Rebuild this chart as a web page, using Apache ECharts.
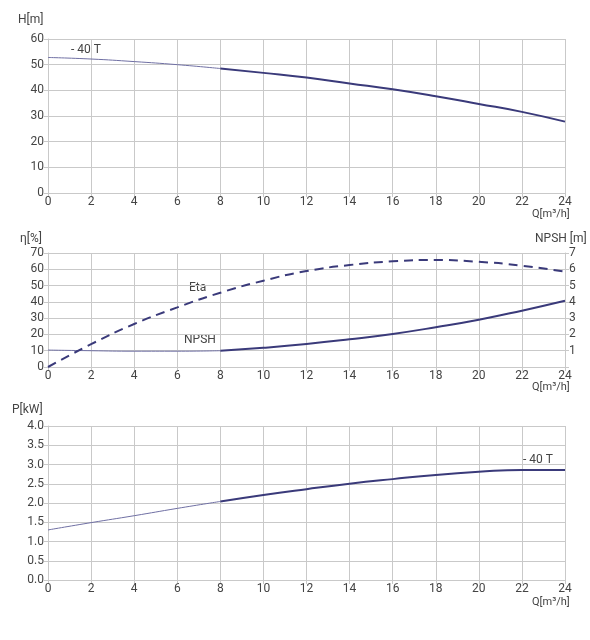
<!DOCTYPE html>
<html lang="en">
<head>
  <meta charset="UTF-8">
  <title>Pump curves</title>
  <script type="text/javascript" src="https://cdn.jsdelivr.net/npm/echarts@6/dist/echarts.min.js"></script>
  <style>
    html, body { margin: 0; padding: 0; background: #fff; }
  </style>
</head>
<body>
<div id="main" style="width: 590px;height:640px;"></div>
<script type="text/javascript">
  var myChart = echarts.init(document.getElementById('main'));

  // flow Q[m3/h]
  const flow = [0, 2, 4, 6, 8, 10, 12, 14, 16, 18, 20, 22, 24];
  // head H[m]
  const head = [52.8, 52.2, 51.2, 50.0, 48.5, 46.8, 45.0, 42.7, 40.4, 37.7, 34.7, 31.6, 27.8];
  // efficiency eta[%]
  const eta = [0, 14, 26.4, 36.6, 45.6, 53, 58.9, 62.6, 64.9, 65.7, 64.6, 62.2, 58.5];
  // NPSH [m]
  const npsh = [1.04, 1.0, 0.97, 0.97, 1.0, 1.18, 1.41, 1.7, 2.03, 2.44, 2.9, 3.46, 4.07];
  // power P[kW]
  const power = [1.30, 1.49, 1.67, 1.86, 2.04, 2.21, 2.36, 2.50, 2.62, 2.73, 2.81, 2.86, 2.86];
  const split = 4; // index of Q = 8, where the drawn curve becomes thick

  const font = 'Roboto, "Noto Sans", sans-serif';
  const grey = '#c9c9c9';
  const txt = '#444';
  const thin = '#6f6fa3';
  const thick = '#3a3a7a';

  function pairs(ys, from, to) {
    return flow.slice(from, to).map(function (q, i) { return [q, ys[from + i]]; });
  }

  function xAxis(g) {
    return {
      type: 'value', gridIndex: g, min: 0, max: 24, interval: 2,
      axisLine: { show: true, lineStyle: { color: grey } },
      axisTick: { show: true, length: 4, lineStyle: { color: grey } },
      axisLabel: { color: txt, fontFamily: font, fontSize: 12, margin: 3 },
      splitLine: { show: true, lineStyle: { color: grey } }
    };
  }

  function yAxis(g, max, interval, fmt) {
    return {
      type: 'value', gridIndex: g, min: 0, max: max, interval: interval,
      axisLine: { show: true, lineStyle: { color: grey } },
      axisTick: { show: true, length: 4, lineStyle: { color: grey } },
      axisLabel: { color: txt, fontFamily: font, fontSize: 12, margin: 4, formatter: fmt },
      splitLine: { show: true, lineStyle: { color: grey } }
    };
  }

  function curve(ys, xi, yi) {
    return [
      {
        type: 'line', xAxisIndex: xi, yAxisIndex: yi, smooth: true, symbol: 'none',
        data: pairs(ys, 0, split + 1), lineStyle: { color: thin, width: 1 }
      },
      {
        type: 'line', xAxisIndex: xi, yAxisIndex: yi, smooth: true, symbol: 'none',
        data: pairs(ys, split, flow.length), lineStyle: { color: thick, width: 2 }
      }
    ];
  }

  function label(text, x, y, size) {
    return {
      type: 'text', left: x, top: y,
      style: { text: text, fill: txt, font: (size || 12) + 'px ' + font }
    };
  }

  const series = []
    .concat(curve(head, 0, 0))
    .concat(curve(npsh, 1, 2))
    .concat([{
      type: 'line', xAxisIndex: 1, yAxisIndex: 1, smooth: true, symbol: 'none',
      data: pairs(eta, 0, flow.length),
      lineStyle: { color: thick, width: 2, type: [9, 6] }
    }])
    .concat(curve(power, 2, 3));

  myChart.setOption({
    animation: false,
    grid: [
      { left: 48, right: 25, top: 39, height: 154 },
      { left: 48, right: 25, top: 253, height: 114 },
      { left: 48, right: 25, top: 426, height: 154 }
    ],
    xAxis: [xAxis(0), xAxis(1), xAxis(2)],
    yAxis: [
      yAxis(0, 60, 10),
      yAxis(1, 70, 10),
      Object.assign(yAxis(1, 7, 1, function (v) { return v === 0 ? '' : v; }), {
        position: 'right', splitLine: { show: false }
      }),
      yAxis(2, 4, 0.5, function (v) { return v.toFixed(1); })
    ],
    graphic: [
      label('H[m]', 18, 14),
      label('Q[m³/h]', 532, 209, 11),
      label('- 40 T', 71, 44),
      label('η[%]', 20, 233),
      label('NPSH [m]', 535, 233),
      label('Eta', 189, 282),
      label('NPSH', 184, 334),
      label('Q[m³/h]', 532, 382, 11),
      label('P[kW]', 12, 404),
      label('- 40 T', 523, 454),
      label('Q[m³/h]', 532, 597, 11)
    ],
    series: series
  });
</script>
</body>
</html>
